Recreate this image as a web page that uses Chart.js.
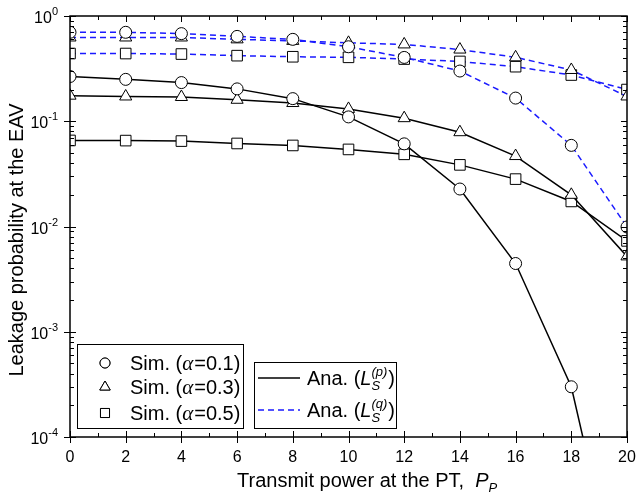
<!DOCTYPE html>
<html lang="en">
<head>
<meta charset="UTF-8">
<title>Leakage probability at the EAV</title>
<script src="https://cdn.jsdelivr.net/npm/chart.js@4"></script>
<style>
  html, body { margin: 0; padding: 0; background: #fff; }
  #wrap { width: 636px; height: 497px; }
</style>
</head>
<body>
<div id="wrap"><canvas id="leak" width="636" height="497"></canvas></div>
<script>
// transmit power at the PT (x axis)
const powers = [0, 2, 4, 6, 8, 10, 12, 14, 16, 18, 20];

// Ana. L_S^(p), solid black
const lpA01 = [0.266, 0.25, 0.233, 0.203, 0.164, 0.11, 0.061, 0.0227, 0.00445, 0.0003, 0.0000015];
const lpA03 = [0.175, 0.172, 0.17, 0.16, 0.149, 0.131, 0.107, 0.0787, 0.0467, 0.02, 0.0052];
const lpA05 = [0.0657, 0.0655, 0.0648, 0.0615, 0.0589, 0.054, 0.0485, 0.0385, 0.0282, 0.0173, 0.0073];

// Ana. L_S^(q), dashed blue
const lqA01 = [0.70, 0.70, 0.68, 0.64, 0.60, 0.51, 0.404, 0.30, 0.166, 0.059, 0.0099];
const lqA03 = [0.625, 0.625, 0.625, 0.60, 0.58, 0.556, 0.537, 0.48, 0.405, 0.307, 0.172];
const lqA05 = [0.44, 0.44, 0.435, 0.42, 0.41, 0.405, 0.39, 0.37, 0.33, 0.275, 0.2];

const xTicks = [0, 2, 4, 6, 8, 10, 12, 14, 16, 18, 20];
const yExps = [0, -1, -2, -3, -4];

const BLUE = '#1a1aff';
const FONT = '"Liberation Sans", Arial, sans-serif';

function pts(arr) { return arr.map((v, i) => ({ x: powers[i], y: v })); }

function series(data, shape, r, dashed) {
  return {
    data: pts(data),
    borderColor: dashed ? BLUE : '#000',
    borderWidth: 1.5,
    borderDash: dashed ? [6, 4] : [],
    pointStyle: shape,
    pointRadius: r,
    pointBorderColor: '#000',
    pointBackgroundColor: '#fff',
    pointBorderWidth: 1,
    tension: 0,
    clip: 0
  };
}

// draws frame, inward ticks, tick labels, axis titles and the two legend boxes
const decorations = {
  id: 'decorations',
  afterDraw(chart) {
    const { ctx, chartArea: a, scales: { x, y } } = chart;
    ctx.save();
    ctx.strokeStyle = '#000';
    ctx.fillStyle = '#000';

    // x ticks
    ctx.lineWidth = 1;
    ctx.beginPath();
    for (let v = 0; v <= 20; v++) {
      const px = Math.round(x.getPixelForValue(v)) + 0.5;
      const major = v % 2 === 0;
      ctx.moveTo(px, a.bottom + (major ? 6 : 0));
      ctx.lineTo(px, a.bottom - (major ? 6 : 4));
      ctx.moveTo(px, a.top);
      ctx.lineTo(px, a.top + (major ? 6 : 4));
    }
    // y ticks (log decades with minors)
    for (let e = -4; e <= 0; e++) {
      const py = Math.round(y.getPixelForValue(Math.pow(10, e))) + 0.5;
      ctx.moveTo(a.left - 6, py);
      ctx.lineTo(a.left + 6, py);
      ctx.moveTo(a.right, py);
      ctx.lineTo(a.right - 6, py);
      if (e < 0) {
        for (let m = 2; m <= 9; m++) {
          const my = Math.round(y.getPixelForValue(m * Math.pow(10, e))) + 0.5;
          ctx.moveTo(a.left, my);
          ctx.lineTo(a.left + 4, my);
          ctx.moveTo(a.right, my);
          ctx.lineTo(a.right - 4, my);
        }
      }
    }
    ctx.stroke();

    // frame
    ctx.lineWidth = 1.5;
    ctx.strokeRect(a.left, a.top, a.right - a.left, a.bottom - a.top);

    // x tick labels
    ctx.font = '16px ' + FONT;
    ctx.textAlign = 'center';
    ctx.textBaseline = 'alphabetic';
    xTicks.forEach(v => ctx.fillText(String(v), x.getPixelForValue(v), a.bottom + 25));

    // y tick labels 10^e
    yExps.forEach(e => {
      const py = y.getPixelForValue(Math.pow(10, e));
      const sup = String(e);
      ctx.font = '11px ' + FONT;
      const sw = ctx.measureText(sup).width;
      ctx.textAlign = 'left';
      ctx.fillText(sup, 58 - sw, py - 1);
      ctx.font = '16px ' + FONT;
      ctx.textAlign = 'right';
      ctx.fillText('10', 58 - sw, py + 7);
    });

    // y title
    ctx.save();
    ctx.translate(23, 240);
    ctx.rotate(-Math.PI / 2);
    ctx.font = '20px ' + FONT;
    ctx.textAlign = 'center';
    ctx.fillText('Leakage probability at the EAV', 0, 0);
    ctx.restore();

    // x title
    ctx.textAlign = 'left';
    let tx = 237;
    ctx.font = '20px ' + FONT;
    const t1 = 'Transmit power at the PT,  ';
    ctx.fillText(t1, tx, 487);
    tx += ctx.measureText(t1).width;
    ctx.font = 'italic 20px ' + FONT;
    ctx.fillText('P', tx, 487);
    tx += ctx.measureText('P').width;
    ctx.font = 'italic 13px ' + FONT;
    ctx.fillText('P', tx, 492);

    // legend box 1: simulation markers
    ctx.lineWidth = 1;
    ctx.strokeRect(77.5, 344.5, 166, 84);
    const sims = [['circle', 5, '0.1', 363], ['triangle', 6, '0.3', 387], ['rect', 6.4, '0.5', 413]];
    sims.forEach(([shape, r, a1, ly]) => {
      ctx.fillStyle = '#fff';
      ctx.strokeStyle = '#000';
      ctx.lineWidth = 1;
      Chart.helpers.drawPoint(ctx, { pointStyle: shape, radius: r, rotation: 0, borderWidth: 1 }, 105, ly);
      ctx.fill();
      ctx.stroke();
      ctx.fillStyle = '#000';
      let lx = 130;
      ctx.font = '20px ' + FONT;
      ctx.fillText('Sim. (', lx, ly + 7);
      lx += ctx.measureText('Sim. (').width;
      ctx.font = 'italic 21px "Liberation Serif", serif';
      ctx.fillText('\u03b1', lx, ly + 7);
      lx += ctx.measureText('\u03b1').width + 1;
      ctx.font = '20px ' + FONT;
      ctx.fillText('=' + a1 + ')', lx, ly + 7);
    });

    // legend box 2: analytical lines
    ctx.strokeRect(254.5, 362.5, 142, 66);
    const anas = [['#000', [], 'p', 378], [BLUE, [6, 4], 'q', 410]];
    anas.forEach(([col, dash, s, ly]) => {
      ctx.strokeStyle = col;
      ctx.lineWidth = 1.5;
      ctx.setLineDash(dash);
      ctx.beginPath();
      ctx.moveTo(258, ly);
      ctx.lineTo(300, ly);
      ctx.stroke();
      ctx.setLineDash([]);
      let lx = 307;
      ctx.font = '20px ' + FONT;
      ctx.fillText('Ana. (', lx, ly + 7);
      lx += ctx.measureText('Ana. (').width;
      ctx.font = 'italic 20px ' + FONT;
      ctx.fillText('L', lx, ly + 7);
      lx += ctx.measureText('L').width;
      ctx.font = 'italic 13px ' + FONT;
      ctx.fillText('S', lx, ly + 12);
      const ws = ctx.measureText('S').width;
      ctx.fillText('(' + s + ')', lx, ly - 2);
      lx += Math.max(ws, ctx.measureText('(' + s + ')').width) + 1;
      ctx.font = '20px ' + FONT;
      ctx.fillText(')', lx, ly + 7);
    });

    ctx.restore();
  }
};

new Chart(document.getElementById('leak'), {
  type: 'line',
  data: {
    datasets: [
      series(lpA01, 'circle', 6, false),
      series(lpA03, 'triangle', 7, false),
      series(lpA05, 'rect', 7.5, false),
      series(lqA01, 'circle', 6, true),
      series(lqA03, 'triangle', 7, true),
      series(lqA05, 'rect', 7.5, true)
    ]
  },
  options: {
    responsive: false,
    animation: false,
    layout: { padding: { top: 16, right: 9, left: 0, bottom: 0 } },
    plugins: { legend: { display: false }, tooltip: { enabled: false } },
    scales: {
      x: {
        type: 'linear', min: 0, max: 20,
        grid: { display: false }, border: { display: false },
        ticks: { display: false },
        afterFit(s) { s.height = 60; }
      },
      y: {
        type: 'logarithmic', min: 1e-4, max: 1,
        grid: { display: false }, border: { display: false },
        ticks: { display: false },
        afterFit(s) { s.width = 70; }
      }
    }
  },
  plugins: [decorations]
});
</script>
</body>
</html>
